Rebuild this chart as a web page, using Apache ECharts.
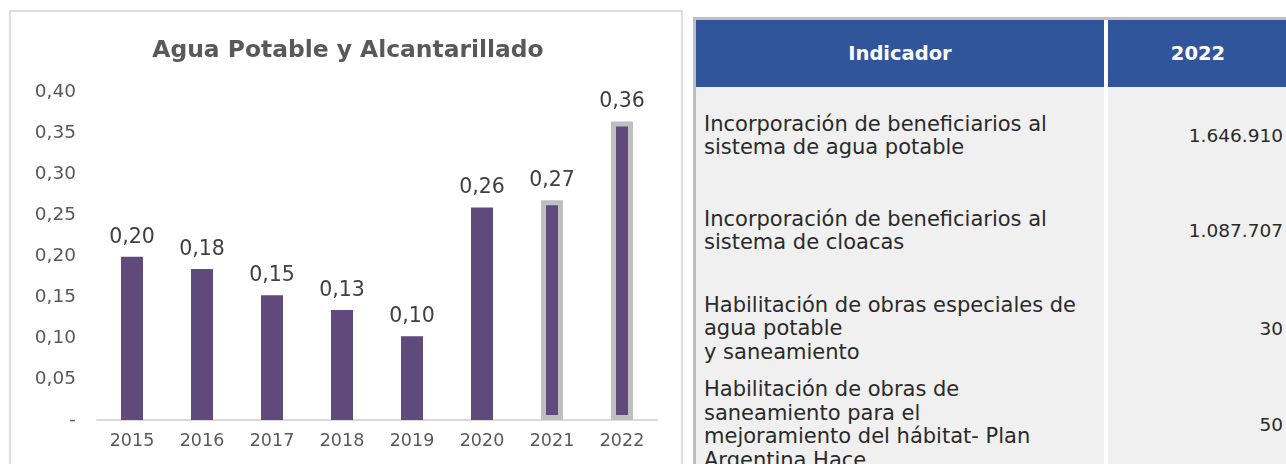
<!DOCTYPE html>
<html>
<head>
<meta charset="utf-8">
<script src="https://cdn.jsdelivr.net/npm/echarts@6/dist/echarts.min.js"></script>
<style>
  html, body { margin:0; padding:0; background:#ffffff; width:1286px; height:464px; overflow:hidden; font-family:'DejaVu Sans', sans-serif; }
  #panel { position:absolute; left:9px; top:10px; width:674px; height:470px; border:2px solid #dedede; box-sizing:border-box; }
  #chart { position:absolute; left:0; top:0; width:690px; height:464px; }
  #table { position:absolute; left:693px; top:17px; width:600px; height:460px; border-top:3px solid #bfbfbf; border-left:3px solid #bfbfbf; box-sizing:border-box; background:#f0f0f0; overflow:hidden; }
  .hdr { position:absolute; top:0; height:67px; background:#31559a; color:#fff; font-weight:700; font-size:19.5px; display:flex; align-items:center; justify-content:center; }
  .gap { position:absolute; left:408px; top:0; width:4px; height:460px; background:#ffffff; }
  .cell { position:absolute; left:8px; width:398px; font-size:21px; line-height:23.5px; color:#2a2a2a; white-space:pre; }
  .val { position:absolute; font-size:18.5px; line-height:23.5px; color:#2a2a2a; text-align:right; }
</style>
</head>
<body>
<div id="panel"></div>
<div id="chart"></div>
<div id="table"></div>
<script>
// ---- Chart data ----
const categories = ['2015','2016','2017','2018','2019','2020','2021','2022'];
const values = [0.199, 0.184, 0.152, 0.134, 0.102, 0.259, 0.268, 0.364];
const highlighted = [false, false, false, false, false, false, true, true];
const chartTitle = 'Agua Potable y Alcantarillado';

// ---- Table data ----
const tableHeaders = ['Indicador', '2022'];
const indicators = [
  'Incorporación de beneficiarios al\nsistema de agua potable',
  'Incorporación de beneficiarios al\nsistema de cloacas',
  'Habilitación de obras especiales de\nagua potable\ny saneamiento',
  'Habilitación de obras de\nsaneamiento para el\nmejoramiento del hábitat- Plan\nArgentina Hace'
];
const indicatorValues = ['1.646.910', '1.087.707', '30', '50'];

const FONT = 'DejaVu Sans';
const fmt = v => v === 0 ? '-' : v.toFixed(2).replace('.', ',');

const chart = echarts.init(document.getElementById('chart'), null, {renderer:'canvas'});
chart.setOption({
  animation:false,
  title:{ text:chartTitle, left:343, top:46, textAlign:'center', textVerticalAlign:'middle',
    textStyle:{ fontFamily:FONT, fontWeight:700, fontSize:23.4, color:'#595959' } },
  grid:{ left:97, right:33, top:92, bottom:44 },
  xAxis:{ type:'category', data:categories,
    axisLine:{ lineStyle:{ color:'#d9d9d9', width:2 } },
    axisTick:{ show:false },
    axisLabel:{ fontFamily:FONT, fontSize:17.5, color:'#595959', margin:12 } },
  yAxis:{ type:'value', min:0, max:0.4, interval:0.05,
    splitLine:{ show:false }, axisLine:{ show:false }, axisTick:{ show:false },
    axisLabel:{ fontFamily:FONT, fontSize:18.5, color:'#595959', margin:21, formatter:fmt } },
  series:[{
    type:'bar', barWidth:22,
    data: values.map((v,i) => highlighted[i]
      ? { value:v, itemStyle:{ color:'#5f4a7b', borderColor:'#bfbfbf', borderWidth:5 } }
      : { value:v }),
    itemStyle:{ color:'#5f4a7b' },
    label:{ show:true, position:'top', distance:9, fontFamily:FONT, fontSize:20.5, color:'#404040',
      formatter: p => fmt(p.value) }
  }]
});

// ---- Table ----
const t = document.getElementById('table');
const h1 = document.createElement('div'); h1.className='hdr'; h1.style.left='0px'; h1.style.width='408px'; h1.textContent=tableHeaders[0]; t.appendChild(h1);
const h2 = document.createElement('div'); h2.className='hdr'; h2.style.left='412px'; h2.style.width='180px'; h2.textContent=tableHeaders[1]; t.appendChild(h2);
const gap = document.createElement('div'); gap.className='gap'; t.appendChild(gap);
const rowCenters = [136, 231, 329, 425];
indicators.forEach((txt, i) => {
  const lines = txt.split('\n').length;
  const c = document.createElement('div'); c.className='cell';
  c.style.top = (rowCenters[i] - 20 - lines*23.5/2) + 'px';
  c.textContent = txt; t.appendChild(c);
  const v = document.createElement('div'); v.className='val';
  v.style.top = (rowCenters[i] - 20 - 23.5/2) + 'px';
  v.style.right = '10px';
  v.textContent = indicatorValues[i]; t.appendChild(v);
});
</script>
</body>
</html>
